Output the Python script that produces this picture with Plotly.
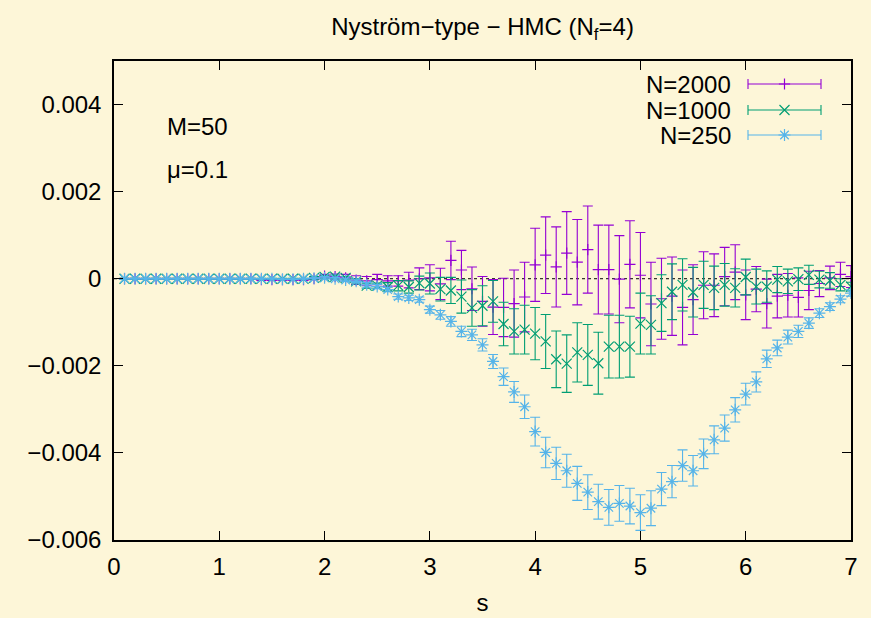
import plotly.graph_objects as go

# ---------------- data ----------------
s_vals = [0.1, 0.2, 0.3, 0.4, 0.5, 0.6, 0.7, 0.8, 0.9, 1.0,
          1.1, 1.2, 1.3, 1.4, 1.5, 1.6, 1.7, 1.8, 1.9, 2.0,
          2.1, 2.2, 2.3, 2.4, 2.5, 2.6, 2.7, 2.8, 2.9, 3.0,
          3.1, 3.2, 3.3, 3.4, 3.5, 3.6, 3.7, 3.8, 3.9, 4.0,
          4.1, 4.2, 4.3, 4.4, 4.5, 4.6, 4.7, 4.8, 4.9, 5.0,
          5.1, 5.2, 5.3, 5.4, 5.5, 5.6, 5.7, 5.8, 5.9, 6.0,
          6.1, 6.2, 6.3, 6.4, 6.5, 6.6, 6.7, 6.8, 6.9, 7.0]

n2000_y = [0, 0, 0, 0, 0, 0, 0, 0, 0, 0,
           0, 0, 0, -0.00002, -0.00002, -0.00002, -0.00002, -0.00002, 0.0, 0.00006,
           0.00005, 0.00002, -0.00003, -0.00005, -0.00002, -0.00005, -0.00005, -0.00003, 0.0, 0.00002,
           -0.00012, 0.00042, 0.00020, -0.00023, -0.00052, -0.00065, -0.00066, -0.00057, -0.00042, 0.00032,
           0.00054, 0.00027, 0.00059, 0.00038, 0.00067, 0.00021, 0.00021, -0.00001, 0.00033, 0.00008,
           -0.00058, -0.00046, -0.00040, -0.00066, -0.00048, -0.00015, -0.00015, 0.00005, 0.00015, -0.00037,
           -0.00024, -0.00057, -0.00040, -0.00038, -0.00043, -0.00027, -0.00011, 0.00002, 0.00010, 0.00005]
n2000_err = [0.00001, 0.00001, 0.00001, 0.00001, 0.00001, 0.00001, 0.00001, 0.00001, 0.00001, 0.00001,
             0.00001, 0.00001, 0.00001, 0.00002, 0.00002, 0.00002, 0.00002, 0.00002, 0.00002, 0.00004,
             0.00006, 0.00008, 0.00010, 0.00010, 0.00012, 0.00012, 0.00012, 0.00018, 0.00025, 0.00030,
             0.00036, 0.00044, 0.00045, 0.00050, 0.00057, 0.00063, 0.00067, 0.00077, 0.00080, 0.00084,
             0.00088, 0.00092, 0.00095, 0.00098, 0.00100, 0.00102, 0.00102, 0.00100, 0.00100, 0.00098,
             0.00096, 0.00093, 0.00090, 0.00086, 0.00080, 0.00077, 0.00072, 0.00067, 0.00063, 0.00057,
             0.00052, 0.00056, 0.00050, 0.00050, 0.00045, 0.00044, 0.00030, 0.00027, 0.00028, 0.00025]

n1000_y = [0, 0, 0, 0, 0, 0, 0, 0, 0, 0,
           0, 0, 0, 0, 0, 0, 0, 0, 0.00002, 0.00004,
           0.00005, 0.00002, -0.00006, -0.00016, -0.00016, -0.00019, -0.00016, -0.00019, -0.00010, -0.00011,
           -0.00024, -0.00027, -0.00041, -0.00067, -0.00062, -0.00052, -0.00104, -0.00121, -0.00117, -0.00126,
           -0.00144, -0.00185, -0.00195, -0.00169, -0.00175, -0.00194, -0.00156, -0.00156, -0.00156, -0.00103,
           -0.00106, -0.00056, -0.00030, -0.00014, -0.00031, -0.00014, -0.00021, -0.00014, -0.00021, 0.00004,
           -0.00018, -0.00018, -0.00002, -0.00006, -0.00001, 0.00009, -0.00002, -0.00004, -0.00014, -0.00018]
n1000_err = [0.00001, 0.00001, 0.00001, 0.00001, 0.00001, 0.00001, 0.00001, 0.00001, 0.00001, 0.00001,
             0.00001, 0.00001, 0.00001, 0.00001, 0.00001, 0.00001, 0.00001, 0.00001, 0.00003, 0.00003,
             0.00003, 0.00003, 0.00006, 0.00006, 0.00006, 0.00010, 0.00012, 0.00014, 0.00016, 0.00024,
             0.00027, 0.00030, 0.00038, 0.00042, 0.00046, 0.00048, 0.00050, 0.00052, 0.00056, 0.00060,
             0.00062, 0.00065, 0.00066, 0.00068, 0.00070, 0.00071, 0.00072, 0.00072, 0.00070, 0.00070,
             0.00067, 0.00065, 0.00064, 0.00060, 0.00057, 0.00054, 0.00050, 0.00049, 0.00044, 0.00041,
             0.00040, 0.00036, 0.00030, 0.00028, 0.00026, 0.00022, 0.00019, 0.00018, 0.00014, 0.00010]

n250_y = [0, 0, 0, 0, 0, 0, 0, 0, 0, 0,
          0, 0, 0, 0, 0, -0.00001, -0.00001, 0.0, 0.00001, 0.00002,
          0.0, -0.00003, -0.00006, -0.00014, -0.00018, -0.00025, -0.00041, -0.00044, -0.00048, -0.00071,
          -0.00083, -0.00098, -0.00121, -0.00129, -0.00152, -0.00190, -0.00225, -0.00260, -0.00294, -0.00351,
          -0.00399, -0.00424, -0.00441, -0.00470, -0.00490, -0.00512, -0.00525, -0.00516, -0.00522, -0.00537,
          -0.00527, -0.00483, -0.00466, -0.00429, -0.00441, -0.00402, -0.00370, -0.00343, -0.00301, -0.00265,
          -0.00237, -0.00184, -0.00159, -0.00134, -0.00121, -0.00102, -0.00079, -0.00064, -0.00047, -0.00033]
n250_err = [0.00001, 0.00001, 0.00001, 0.00001, 0.00001, 0.00001, 0.00001, 0.00001, 0.00001, 0.00001,
            0.00001, 0.00001, 0.00001, 0.00001, 0.00001, 0.00001, 0.00001, 0.00001, 0.00001, 0.00003,
            0.00003, 0.00003, 0.00003, 0.00005, 0.00005, 0.00005, 0.00006, 0.00006, 0.00006, 0.00008,
            0.00010, 0.00011, 0.00012, 0.00013, 0.00014, 0.00016, 0.00020, 0.00024, 0.00027, 0.00033,
            0.00035, 0.00037, 0.00038, 0.00039, 0.00040, 0.00040, 0.00041, 0.00041, 0.00041, 0.00041,
            0.00040, 0.00038, 0.00037, 0.00036, 0.00035, 0.00034, 0.00032, 0.00030, 0.00028, 0.00025,
            0.00023, 0.00020, 0.00018, 0.00016, 0.00014, 0.00012, 0.00010, 0.00009, 0.00008, 0.00007]

series_names = ["N=2000", "N=1000", "N=250"]
series_colors = ["#9400d3", "#009e73", "#56b4e9"]
series_symbols = ["cross-thin", "x-thin", "asterisk"]
series_sizes = [8, 10, 10]

x_ticks = [0, 1, 2, 3, 4, 5, 6, 7]
y_ticks = [-0.006, -0.004, -0.002, 0, 0.002, 0.004]
y_ticktext = ["\u22120.006", "\u22120.004", "\u22120.002", "0", "0.002", "0.004"]

title_text = "Nystr\u00f6m\u2212type \u2212 HMC (N<sub>f</sub>=4)"
label_M = "M=50"
label_mu = "\u03bc=0.1"

# ---------------- style ----------------
BG = "#fdf6d8"
FONT = "Liberation Sans, Arial, Helvetica, sans-serif"
FS = 24
W, H = 871, 618
L, R, T, B = 114, 20, 61, 78

fig = go.Figure()

ys = [n2000_y, n1000_y, n250_y]
es = [n2000_err, n1000_err, n250_err]
for name, yv, ev, col, sym, sz in zip(series_names, ys, es, series_colors, series_symbols, series_sizes):
    fig.add_trace(go.Scatter(
        x=s_vals, y=yv, mode="markers", name=name, showlegend=False,
        marker=dict(symbol=sym, size=sz, color=col, line=dict(color=col, width=1.2)),
        error_y=dict(type="data", array=ev, visible=True, color=col, thickness=1.1, width=5),
    ))

# legend samples (on an overlay pixel-like axis)
leg_rows = [84, 110, 135]
leg_cx = 784.5
leg_half = 36.5
for name, col, sym, sz, py in zip(series_names, series_colors, series_symbols, series_sizes, leg_rows):
    fig.add_trace(go.Scatter(
        x=[leg_cx], y=[py], xaxis="x2", yaxis="y2", mode="markers", showlegend=False,
        marker=dict(symbol=sym, size=sz, color=col, line=dict(color=col, width=1.2)),
        error_x=dict(type="constant", value=leg_half, visible=True, color=col, thickness=1.1, width=5),
        hoverinfo="skip",
    ))
    fig.add_annotation(x=733, y=py, xref="x2", yref="y2", text=name, showarrow=False,
                       xanchor="right", yanchor="middle", font=dict(family=FONT, size=FS, color="black"))

# zero axis (dotted)
fig.add_shape(type="line", x0=0, x1=7, y0=0, y1=0, xref="x", yref="y",
              line=dict(color="black", width=1, dash="dot"), layer="below")

fig.add_annotation(x=0.48, y=0.0035, xref="x", yref="y", text=label_M, showarrow=False,
                   xanchor="left", yanchor="middle", font=dict(family=FONT, size=FS, color="black"))
fig.add_annotation(x=0.48, y=0.0025, xref="x", yref="y", text=label_mu, showarrow=False,
                   xanchor="left", yanchor="middle", font=dict(family=FONT, size=FS, color="black"))

axis_common = dict(showgrid=False, zeroline=False, showline=True, linecolor="black", linewidth=1.5,
                   ticks="inside", ticklen=9, tickwidth=1, tickcolor="black", mirror="allticks",
                   automargin=False,
                   tickfont=dict(family=FONT, size=FS, color="black"))

fig.update_layout(
    width=W, height=H,
    margin=dict(l=L, r=R, t=T, b=B, pad=0, autoexpand=False),
    paper_bgcolor=BG, plot_bgcolor=BG,
    title=dict(text=title_text, x=0.5, xref="paper", xanchor="center",
               y=1 - 27 / H, yref="container", yanchor="middle",
               font=dict(family=FONT, size=FS, color="black")),
    xaxis=dict(range=[0, 7], tickvals=x_ticks, ticktext=[str(v) for v in x_ticks],
               ticklabelstandoff=4,
               title=dict(text="s", font=dict(family=FONT, size=FS, color="black"), standoff=16),
               **axis_common),
    yaxis=dict(range=[-0.006, 0.005], tickvals=y_ticks, ticktext=y_ticktext,
               ticklabelstandoff=6, **axis_common),
    xaxis2=dict(range=[L, W - R], overlaying="x", visible=False, fixedrange=True),
    yaxis2=dict(range=[H - B, T], overlaying="y", visible=False, fixedrange=True),
    showlegend=False,
)

fig.write_html("out.html")
